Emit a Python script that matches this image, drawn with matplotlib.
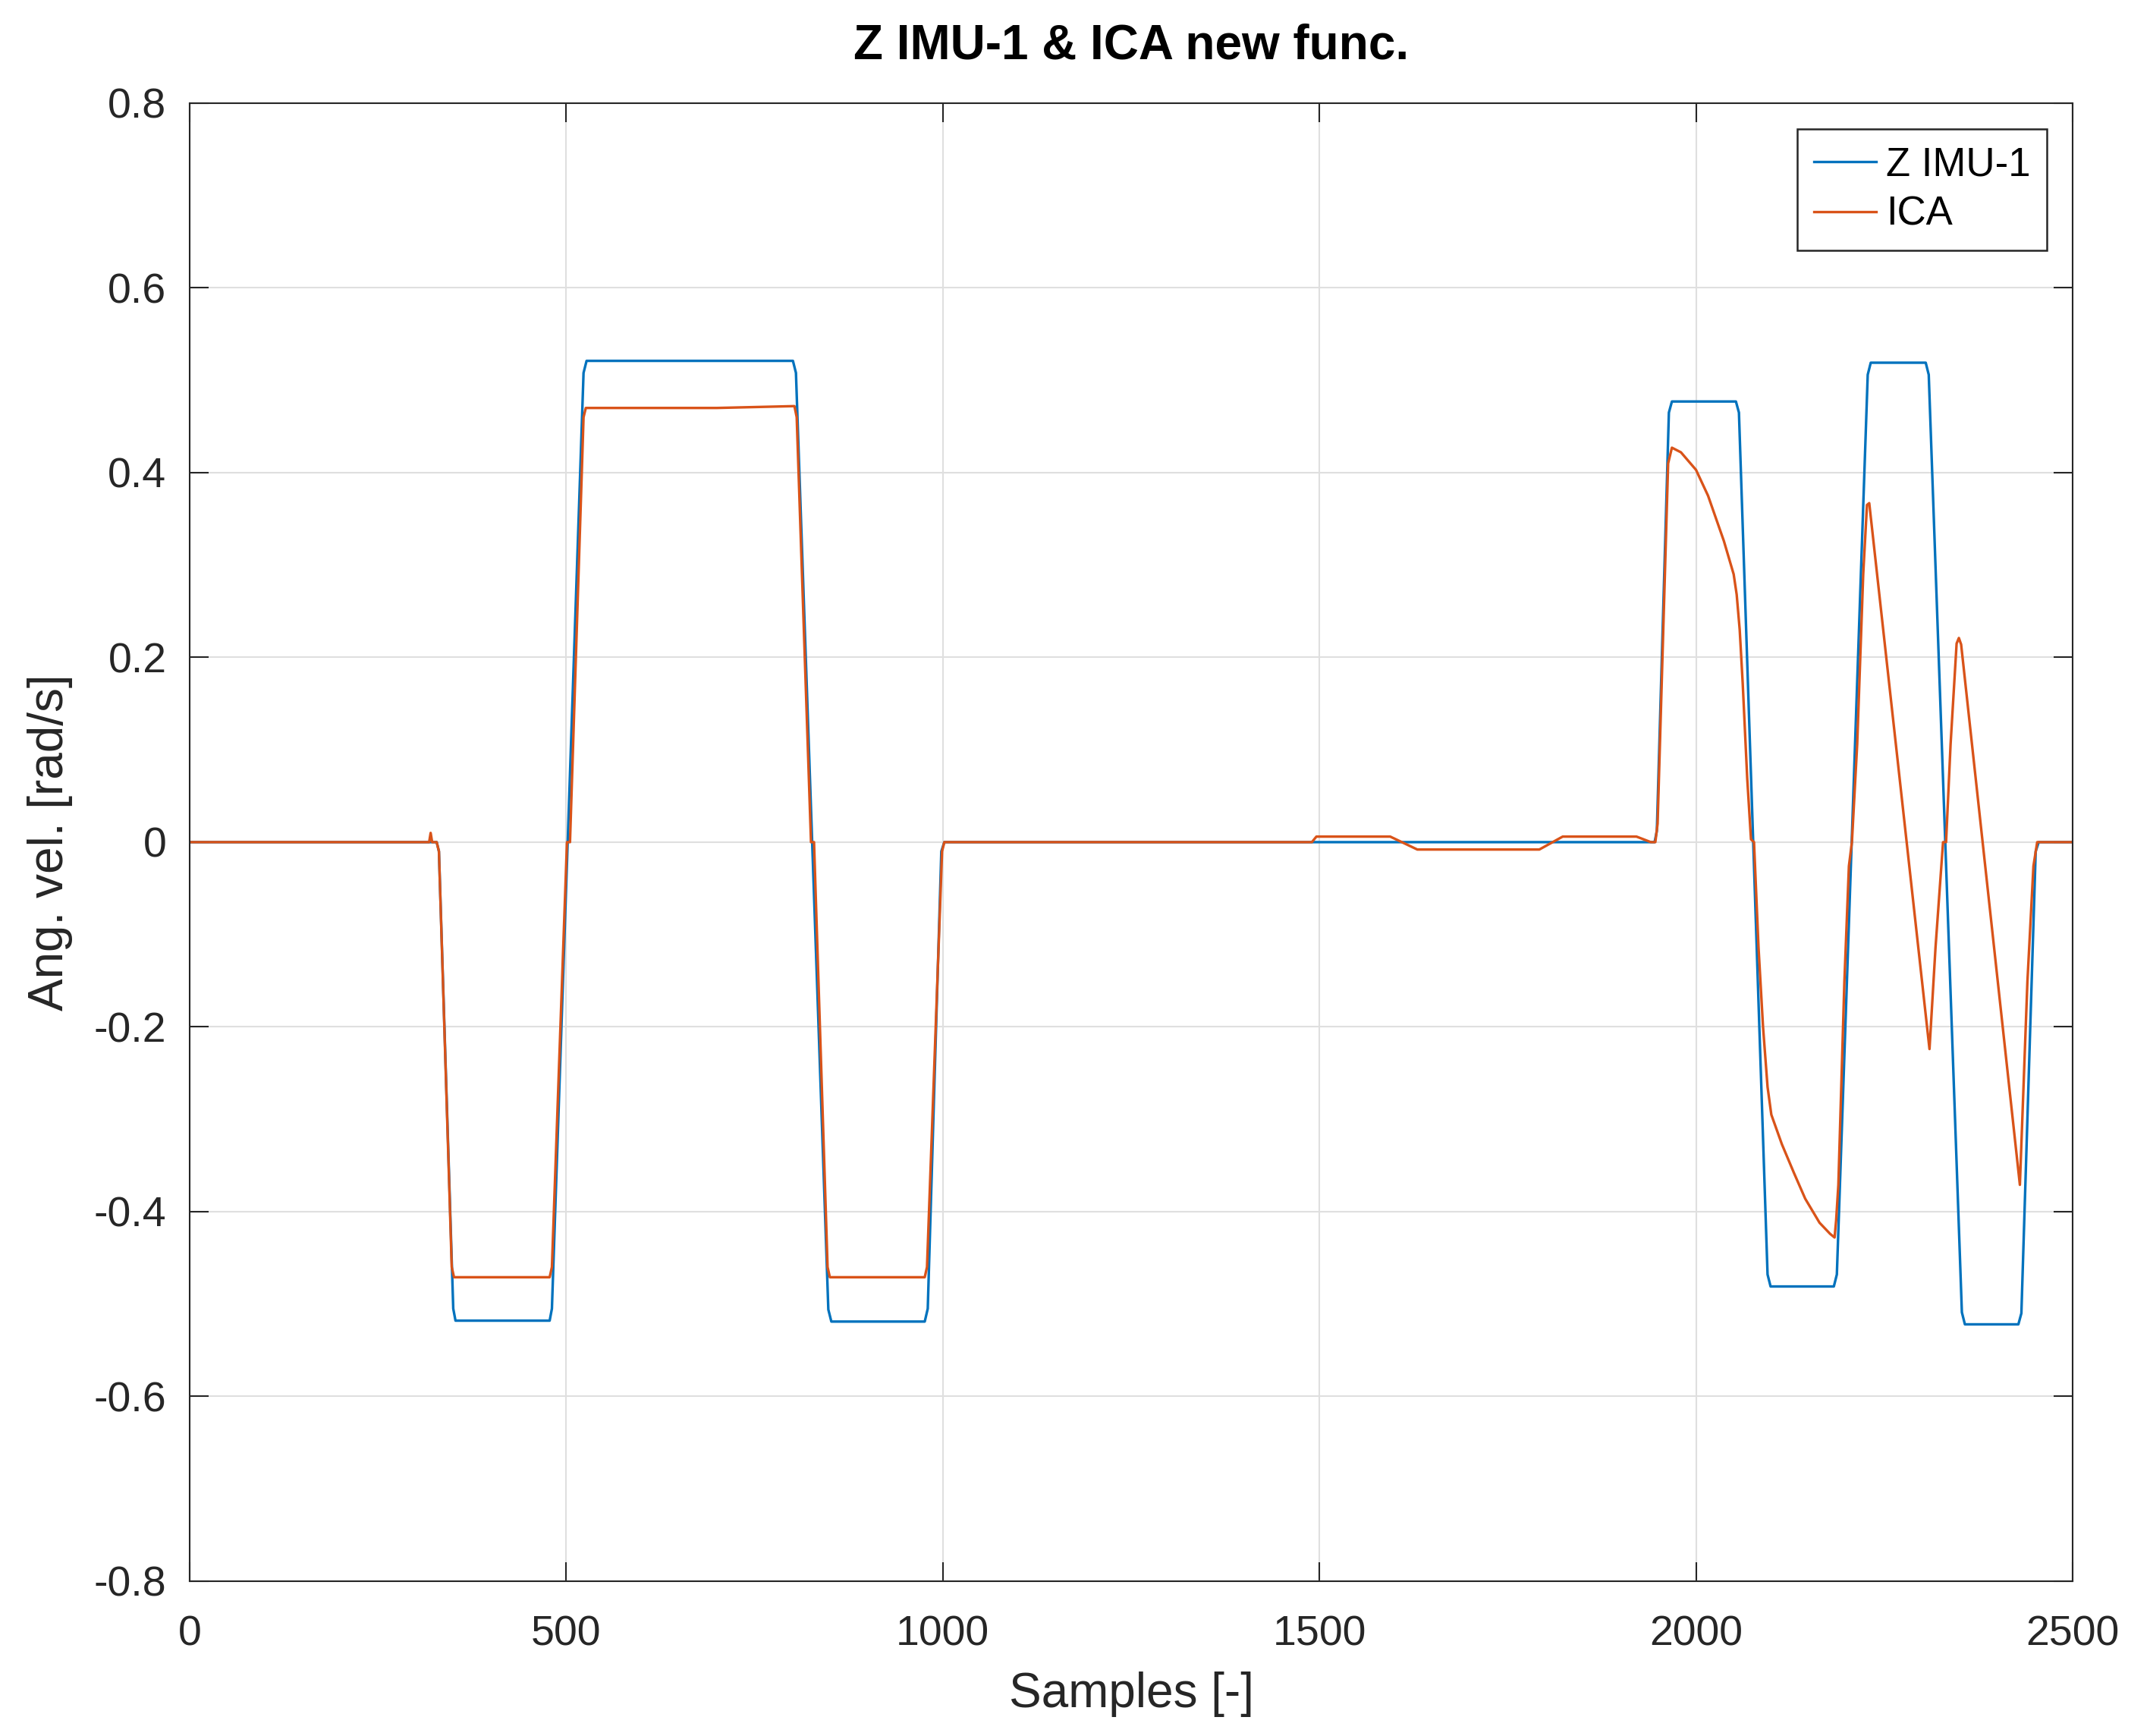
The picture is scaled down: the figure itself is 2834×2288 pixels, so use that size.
import matplotlib
matplotlib.use("Agg")
import matplotlib.pyplot as plt

plt.rcParams['font.family'] = ['Liberation Sans', 'DejaVu Sans']

# ---- data (breakpoints of the traces) ----
imu_x = [0, 328, 331, 350, 353, 478, 481, 523, 527, 801, 805, 848, 852,
         976, 980, 998, 1002, 1945, 1948, 1964, 1968, 2053, 2057, 2095, 2099,
         2183, 2187, 2228, 2232, 2305, 2309, 2353, 2357, 2428, 2432, 2451,
         2455, 2500]
imu_y = [0, 0, -0.01, -0.505, -0.518, -0.518, -0.505, 0.508, 0.521, 0.521,
         0.508, -0.506, -0.519, -0.519, -0.505, -0.01, 0, 0, 0.012, 0.465,
         0.477, 0.477, 0.465, -0.468, -0.481, -0.481, -0.468, 0.506, 0.519,
         0.519, 0.506, -0.509, -0.522, -0.522, -0.51, -0.01, 0, 0]

ica_x = [0, 318, 320, 322, 328, 331, 348, 351, 478, 481, 501, 505, 523, 526,
         700, 803, 806, 825, 829, 847, 850, 976, 979, 999, 1002,
         1490, 1496, 1594, 1630, 1792, 1823, 1921, 1940, 1946,
         1949, 1963, 1968, 1980, 2000, 2016, 2037, 2050, 2054, 2058, 2062,
         2068, 2073, 2077, 2083, 2089, 2095, 2100, 2114, 2130, 2145, 2164,
         2178, 2184, 2186, 2189, 2197, 2203, 2207, 2214, 2222, 2227, 2230,
         2310, 2318, 2328, 2332, 2338, 2346, 2349, 2352, 2430, 2440, 2448,
         2453, 2500]
ica_y = [0, 0, 0.01, 0, 0, -0.01, -0.46, -0.471, -0.471, -0.46, 0, 0, 0.46,
         0.47, 0.47, 0.472, 0.46, 0, 0, -0.46, -0.471, -0.471, -0.46, -0.01, 0,
         0, 0.006, 0.006, -0.008, -0.008, 0.006, 0.006, 0.0, 0.0,
         0.02, 0.41, 0.427, 0.422, 0.403, 0.375, 0.326, 0.29, 0.268, 0.23,
         0.172, 0.069, 0.003, 0.0, -0.114, -0.2, -0.265, -0.295, -0.327,
         -0.358, -0.386, -0.412, -0.424, -0.428, -0.41, -0.371, -0.151,
         -0.026, 0.0, 0.106, 0.29, 0.365, 0.367, -0.224, -0.114, 0.0, 0.0,
         0.106, 0.215, 0.221, 0.214, -0.371, -0.151, -0.026, 0.0, 0.0]

x_ticks = [0, 500, 1000, 1500, 2000, 2500]
y_ticks = [-0.8, -0.6, -0.4, -0.2, 0, 0.2, 0.4, 0.6, 0.8]
y_tick_labels = ['-0.8', '-0.6', '-0.4', '-0.2', '0', '0.2', '0.4', '0.6', '0.8']

# ---- figure ----
fig = plt.figure(figsize=(14.17, 11.44), dpi=200)
ax = fig.add_axes([0.0882, 0.0892, 0.8758, 0.8514])

ax.plot(imu_x, imu_y, color='#0072BD', lw=1.2, label='Z IMU-1')
ax.plot(ica_x, ica_y, color='#D95319', lw=1.2, label='ICA')

ax.set_xlim(0, 2500)
ax.set_ylim(-0.8, 0.8)
ax.set_xticks(x_ticks)
ax.set_yticks(y_ticks)
ax.set_yticklabels(y_tick_labels)

ax.grid(True, color='#dfdfdf', lw=0.75)
ax.set_axisbelow(True)
for sp in ax.spines.values():
    sp.set_color('#262626')
    sp.set_linewidth(0.75)
ax.tick_params(direction='in', length=9, width=0.75, colors='#262626',
               labelsize=20, top=True, right=True)
ax.tick_params(axis='x', pad=16)
ax.tick_params(axis='y', pad=11)

ax.set_xlabel('Samples [-]', fontsize=23, color='#262626', labelpad=8)
ax.set_ylabel('Ang. vel. [rad/s]', fontsize=23, color='#262626', labelpad=10)
ax.set_title('Z IMU-1 & ICA new func.', fontsize=23, fontweight='bold',
             color='black', pad=21)

leg = ax.legend(loc='upper right', bbox_to_anchor=(0.9865, 0.9825),
                borderaxespad=0, fontsize=19, fancybox=False, framealpha=1,
                edgecolor='#262626', handlelength=1.55, handletextpad=0.24,
                labelspacing=0.3, borderpad=0.42)
leg.get_frame().set_linewidth(0.9)

fig.savefig('out.png', dpi=200)
